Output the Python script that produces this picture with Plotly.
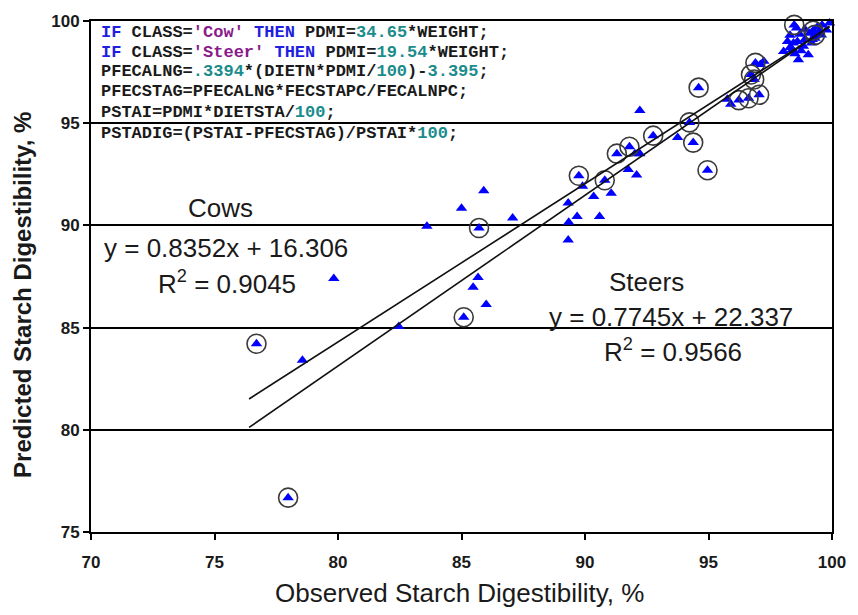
import plotly.graph_objects as go

# ---------------- data ----------------
cow_obs = [76.70, 77.98, 85.09, 85.71, 89.75, 90.80, 91.29, 91.80, 92.76, 94.23,
           94.38, 94.96, 94.60, 96.23, 96.62, 97.05, 96.72, 96.90, 96.85, 98.47,
           99.24, 99.31]
cow_pred = [84.21, 76.68, 85.51, 89.87, 92.43, 92.21, 93.51, 93.85, 94.39, 95.04,
            94.05, 92.70, 96.74, 96.13, 96.22, 96.39, 97.38, 97.95, 97.14, 99.81,
            99.53, 99.32]

steer_obs = [78.56, 79.83, 82.46, 83.60, 85.00, 85.90, 87.07, 85.67, 85.47, 86.00,
             89.32, 89.34, 89.32, 89.68, 90.59, 90.35, 91.06, 89.90, 91.75, 92.09,
             92.02, 92.22, 92.22, 93.75, 95.76, 95.90, 97.10, 97.24, 98.04, 98.44,
             98.64, 99.04, 98.84, 99.17, 99.31, 99.57, 99.78, 99.90, 98.56, 98.70,
             98.90, 99.40, 99.60, 98.30, 98.50, 98.75, 99.10, 98.20, 98.30, 98.60,
             98.90, 99.20, 98.40, 99.50]
steer_pred = [83.40, 87.40, 85.05, 89.96, 90.84, 91.70, 90.36, 87.45, 86.97, 86.13,
              91.09, 90.15, 89.28, 90.44, 90.44, 91.41, 91.57, 91.92, 92.73, 92.46,
              93.51, 93.51, 95.62, 94.30, 96.17, 95.93, 97.87, 98.03, 98.51, 98.92,
              98.11, 98.35, 98.76, 98.92, 99.16, 99.32, 99.56, 99.90, 99.66, 99.35,
              99.60, 99.70, 99.80, 98.70, 98.40, 98.55, 99.40, 99.00, 99.30, 99.00,
              99.10, 99.10, 98.60, 99.50]

# regression equations shown on the chart
cow_slope, cow_icpt = 0.8352, 16.306
steer_slope, steer_icpt = 0.7745, 22.337
trend_x = [76.4, 99.9]

x_ticks = [70, 75, 80, 85, 90, 95, 100]
y_ticks = [75, 80, 85, 90, 95, 100]

code_lines = [
    '<span style="color:#1f1fe0">IF</span> CLASS=<span style="color:#8a1a8a">\'Cow\'</span> '
    '<span style="color:#1f1fe0">THEN</span> PDMI=<span style="color:#1a8c8c">34.65</span>*WEIGHT;',
    '<span style="color:#1f1fe0">IF</span> CLASS=<span style="color:#8a1a8a">\'Steer\'</span> '
    '<span style="color:#1f1fe0">THEN</span> PDMI=<span style="color:#1a8c8c">19.54</span>*WEIGHT;',
    'PFECALNG=<span style="color:#1a8c8c">.3394</span>*(DIETN*PDMI/<span style="color:#1a8c8c">100</span>)-'
    '<span style="color:#1a8c8c">3.395</span>;',
    'PFECSTAG=PFECALNG*FECSTAPC/FECALNPC;',
    'PSTAI=PDMI*DIETSTA/<span style="color:#1a8c8c">100</span>;',
    'PSTADIG=(PSTAI-PFECSTAG)/PSTAI*<span style="color:#1a8c8c">100</span>;',
]

# ---------------- geometry helpers ----------------
W, H = 858, 615
L, R, T, B = 91, 839, 16, 532


def px(xp):
    return (xp - L) / (R - L)


def py(yp):
    return (B - yp) / (B - T)


fig = go.Figure()

fig.add_trace(go.Scatter(
    x=steer_obs, y=steer_pred, mode="markers",
    marker=dict(symbol="triangle-up", size=10, color="#0000ff"),
    showlegend=False, cliponaxis=False))
fig.add_trace(go.Scatter(
    x=cow_obs, y=cow_pred, mode="markers",
    marker=dict(symbol="triangle-up", size=10, color="#0000ff"),
    showlegend=False, cliponaxis=False))
fig.add_trace(go.Scatter(
    x=cow_obs, y=cow_pred, mode="markers",
    marker=dict(symbol="circle-open", size=19, color="#3a3a3a", line=dict(width=1.6)),
    showlegend=False, cliponaxis=False))

fig.add_trace(go.Scatter(
    x=trend_x, y=[cow_slope * v + cow_icpt for v in trend_x], mode="lines",
    line=dict(color="#111111", width=1.6), showlegend=False))
fig.add_trace(go.Scatter(
    x=trend_x, y=[steer_slope * v + steer_icpt for v in trend_x], mode="lines",
    line=dict(color="#111111", width=1.6), showlegend=False))

ann = []
code_y = [27.7, 47.7, 66.7, 86.7, 108.3, 130.0]
for t, yy in zip(code_lines, code_y):
    ann.append(dict(text=t, xref="paper", yref="paper", x=px(99), y=py(yy),
                    xanchor="left", yanchor="middle", showarrow=False,
                    font=dict(family="Liberation Mono", size=17, color="#1a1a1a", weight="bold")))

lab_font = dict(family="Liberation Sans", size=26, color="#1a1a1a")
labels = [
    ("Cows", 222, 205),
    ("y = 0.8352x + 16.306", 227, 245),
    ("R<sup>2</sup> = 0.9045", 228, 280),
    ("Steers", 652, 280),
    ("y = 0.7745x + 22.337", 676, 315),
    ("R<sup>2</sup> = 0.9566", 679, 349),
]
for t, xx, yy in labels:
    ann.append(dict(text=t, xref="paper", yref="paper", x=px(xx), y=py(yy),
                    xanchor="center", yanchor="middle", showarrow=False, font=lab_font))

ann.append(dict(text="Observed Starch Digestibility, %", xref="paper", yref="paper",
                x=px(463), y=py(594), xanchor="center", yanchor="middle", showarrow=False,
                font=dict(family="Liberation Sans", size=26, color="#1a1a1a")))
ann.append(dict(text="Predicted Starch Digestibility, %", xref="paper", yref="paper",
                x=px(22), y=py(293), xanchor="center", yanchor="middle", showarrow=False,
                textangle=-90,
                font=dict(family="Liberation Sans", size=24, color="#1a1a1a", weight="bold")))

fig.update_layout(
    width=W, height=H,
    margin=dict(l=L, r=W - R, t=T, b=H - B),
    plot_bgcolor="white", paper_bgcolor="white",
    annotations=ann,
    xaxis=dict(range=[70, 100], tickvals=x_ticks, ticktext=[str(v) for v in x_ticks],
               showgrid=False, zeroline=False,
               showline=True, linecolor="black", linewidth=2, mirror=True,
               ticks="outside", ticklen=6, tickwidth=1.5, tickcolor="black",
               ticklabelstandoff=8,
               tickfont=dict(family="Liberation Sans", size=17, color="#1a1a1a", weight="bold")),
    yaxis=dict(range=[75, 100], tickvals=y_ticks, ticktext=[str(v) for v in y_ticks],
               showgrid=True, gridcolor="black", gridwidth=1.5, zeroline=False,
               showline=True, linecolor="black", linewidth=2, mirror=True,
               ticks="outside", ticklen=6, tickwidth=1.5, tickcolor="black",
               tickfont=dict(family="Liberation Sans", size=17, color="#1a1a1a", weight="bold")),
)

fig.write_html("out.html")
